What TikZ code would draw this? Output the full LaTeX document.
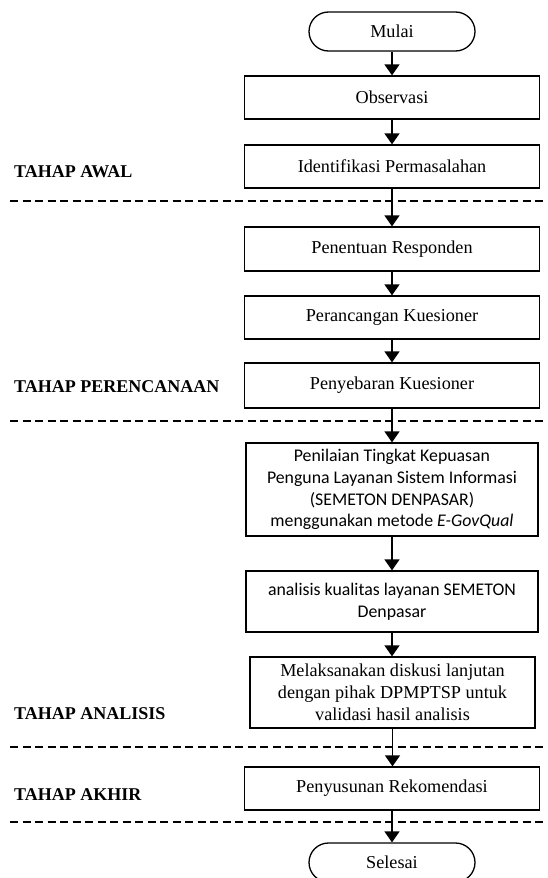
\documentclass[tikz,border=0pt]{standalone}
\usepackage{fontspec}
\setmainfont{Liberation Serif}
\newfontfamily\calibri{Carlito}
\usetikzlibrary{arrows.meta}
\begin{document}
\begin{tikzpicture}[x=1pt,y=-1pt,
  box/.style={draw, line width=1.3pt, minimum width=295pt, minimum height=43pt,
    align=center, inner sep=0pt, font=\fontsize{18.2}{22}\selectfont},
  calbox/.style={box, font=\calibri\fontsize{17.8}{21.7}\selectfont},
  term/.style={draw, line width=1.3pt, rounded corners=19.5pt, minimum width=166pt,
    minimum height=39pt, inner sep=0pt, font=\fontsize{18.2}{22}\selectfont},
  flow/.style={line width=1.5pt, -{Triangle[width=15pt,length=11pt]}},
  phase/.style={line width=1.3pt, dash pattern=on 8pt off 4.5pt},
  lbl/.style={anchor=west, inner sep=0pt, font=\bfseries\fontsize{18}{22}\selectfont}]
\useasboundingbox (0,0) rectangle (547,878);

% phase separators
\draw[phase] (10,201) -- (547,201);
\draw[phase] (10,421) -- (547,421);
\draw[phase] (10,747) -- (547,747);
\draw[phase] (10,822) -- (547,822);

% phase labels
\node[lbl] (l1) at (14,172) {TAHAP AWAL};
\node[lbl] (l2) at (14,387) {TAHAP PERENCANAAN};
\node[lbl] (l3) at (14,714) {TAHAP ANALISIS};
\node[lbl] (l4) at (14,795) {TAHAP AKHIR};

% flow nodes
\node[term] (mulai) at (392,31.5) {Mulai};
\node[box] (obs) at (392,97.5) {Observasi};
\node[box] (idf) at (392,166.5) {Identifikasi Permasalahan};
\node[box, minimum height=44pt] (pen) at (392,249) {Penentuan Responden};
\node[box] (per) at (392,317.5) {Perancangan Kuesioner};
\node[box, minimum height=45pt] (peny) at (392,385.5) {Penyebaran Kuesioner};
\node[calbox, minimum width=292pt, minimum height=93pt] (nil) at (392,489.5)
  {Penilaian Tingkat Kepuasan\\Penguna Layanan Sistem Informasi\\(SEMETON DENPASAR)\\menggunakan metode \textit{E-GovQual}};
\node[calbox, minimum width=292pt, minimum height=61pt] (ana) at (392,601.5)
  {analisis kualitas layanan SEMETON\\Denpasar};
\node[box, minimum width=285pt, minimum height=71pt] (mel) at (392.5,692.5)
  {Melaksanakan diskusi lanjutan\\dengan pihak DPMPTSP untuk\\validasi hasil analisis};
\node[box] (rek) at (392,788.5) {Penyusunan Rekomendasi};
\node[term] (sel) at (392,862.5) {Selesai};

% connectors
\foreach \a/\b in {mulai/obs, obs/idf, idf/pen, pen/per, per/peny, peny/nil, nil/ana, ana/mel, mel/rek, rek/sel}
  \draw[flow] (\a.south) -- (\a.south |- \b.north);
\end{tikzpicture}
\end{document}
